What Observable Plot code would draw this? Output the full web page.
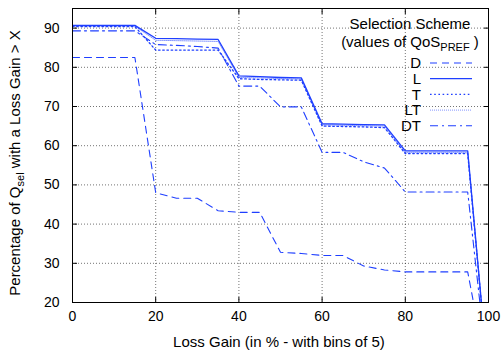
<!DOCTYPE html>
<html><head><meta charset="utf-8">
<script src="https://cdn.jsdelivr.net/npm/d3@7"></script>
<script src="https://cdn.jsdelivr.net/npm/@observablehq/plot@0.6"></script>
<style>body{margin:0;background:#fff} svg{display:block}</style>
</head><body><div id="chart"></div>
<script>
const lossGain = [0,5,10,15,20,25,30,35,40,45,50,55,60,65,70,75,80,85,90,95,100];
const seriesD  = [82.5,82.5,82.5,82.5,48.0,46.6,46.6,43.4,43.0,43.0,32.8,32.5,32.0,32.0,29.3,28.3,27.8,27.8,27.8,27.8,0];
const seriesL  = [90.7,90.7,90.7,90.7,87.4,87.3,87.2,87.1,77.8,77.6,77.4,77.3,65.6,65.5,65.4,65.3,58.7,58.7,58.7,58.7,0];
const seriesT  = [90.4,90.4,90.4,90.4,84.4,84.4,84.4,84.4,77.1,76.9,76.8,76.7,65.0,64.9,64.8,64.6,58.0,58.0,58.0,58.0,0];
const seriesLT = [90.5,90.5,90.5,90.5,86.9,86.8,86.7,86.6,77.4,77.3,77.1,77.0,65.3,65.2,65.1,65.0,58.3,58.3,58.3,58.3,0];
const seriesDT = [89.3,89.3,89.3,89.3,85.8,85.6,85.3,84.9,75.2,75.2,69.9,69.9,58.3,58.3,55.9,54.3,48.2,48.2,48.2,48.2,0];
const seriesNames = ["D","L","T","LT","DT"];
const xTicks = [0,20,40,60,80,100];
const yTicks = [20,30,40,50,60,70,80,90];

const blue = "#1f3fff";
const styles = {
  D:  {strokeDasharray: "7,5", strokeWidth: 1.1, strokeOpacity: 1},
  L:  {strokeDasharray: null, strokeWidth: 1.3, strokeOpacity: 1},
  T:  {strokeDasharray: "1.6,2.6", strokeWidth: 1.3, strokeOpacity: 1},
  LT: {strokeDasharray: "1,1", strokeWidth: 1, strokeOpacity: 0.55},
  DT: {strokeDasharray: "8,4,2,4", strokeWidth: 1.1, strokeOpacity: 1}
};
const values = {D: seriesD, L: seriesL, T: seriesT, LT: seriesLT, DT: seriesDT};
const rows = name => lossGain.map((x, i) => ({x, y: values[name][i]}));

const font = "'Liberation Sans', Arial, Helvetica, sans-serif";
const grid = {stroke: "#000", strokeOpacity: 0.55, strokeDasharray: "1,2", strokeWidth: 1};

const plot = Plot.plot({
  width: 502, height: 354,
  marginLeft: 72, marginRight: 14, marginTop: 8, marginBottom: 52,
  style: {fontFamily: font, fontSize: "14px", color: "#000", background: "#fff"},
  x: {domain: [0, 100], label: null},
  y: {domain: [20, 95], label: null},
  marks: [
    Plot.gridX(xTicks, grid),
    Plot.gridY(yTicks, grid),
    Plot.axisX(xTicks, {tickSize: 0, tickPadding: 9, label: null, fontSize: 14}),
    Plot.axisY(yTicks, {tickSize: 0, tickPadding: 13, label: null, fontSize: 14}),
    Plot.axisX(xTicks, {anchor: "bottom", tickSize: -5, tickFormat: () => "", label: null}),
    Plot.axisX(xTicks, {anchor: "top", tickSize: -5, tickFormat: () => "", label: null}),
    Plot.axisY(yTicks, {anchor: "left", tickSize: -5, tickFormat: () => "", label: null}),
    Plot.axisY(yTicks, {anchor: "right", tickSize: -5, tickFormat: () => "", label: null}),
    ...seriesNames.map(n => Plot.line(rows(n), {x: "x", y: "y", stroke: blue, clip: true, ...styles[n]})),
    Plot.frame({stroke: "#000", strokeWidth: 1})
  ]
});
document.getElementById("chart").appendChild(plot);

const svg = d3.select(plot);
// axis titles
const xl = svg.append("text").attr("x", 279).attr("y", 347)
  .attr("text-anchor", "middle").attr("font-size", 15).attr("font-family", font)
  .text("Loss Gain (in % - with bins of 5)");
const yl = svg.append("text").attr("transform", "translate(20,163) rotate(-90)")
  .attr("text-anchor", "middle").attr("font-size", 15).attr("font-family", font);
yl.append("tspan").text("Percentage of Q");
yl.append("tspan").attr("font-size", 11).attr("dy", 4).text("sel");
yl.append("tspan").attr("dy", -4).text(" with a Loss Gain > X");

// legend
const lg = svg.append("g").attr("font-family", font).attr("font-size", 15);
lg.append("text").attr("x", 410).attr("y", 29).attr("text-anchor", "middle").text("Selection Scheme");
const t2 = lg.append("text").attr("x", 410).attr("y", 47).attr("text-anchor", "middle");
t2.append("tspan").text("(values of QoS");
t2.append("tspan").attr("font-size", 11).attr("dy", 4).text("PREF");
t2.append("tspan").attr("dy", -4).text(" )");
const legY = [63, 78.7, 94.4, 110.1, 125.8];
seriesNames.forEach((n, i) => {
  lg.append("text").attr("x", 421).attr("y", legY[i] + 5.3).attr("text-anchor", "end").text(n);
  const s = styles[n];
  lg.append("line").attr("x1", 430).attr("x2", 472).attr("y1", legY[i]).attr("y2", legY[i])
    .attr("stroke", blue).attr("stroke-width", s.strokeWidth).attr("stroke-opacity", s.strokeOpacity)
    .attr("stroke-dasharray", s.strokeDasharray);
});
</script>
</body></html>
